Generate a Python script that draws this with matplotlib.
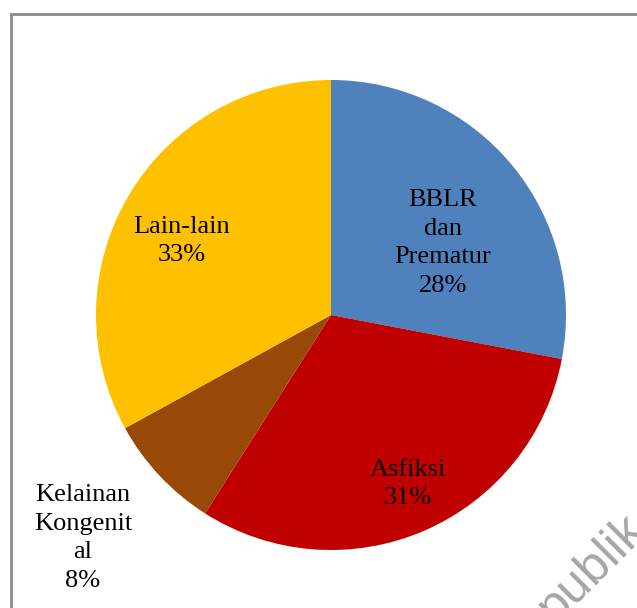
import matplotlib.pyplot as plt
from matplotlib.patches import Rectangle

# Data
labels = ['BBLR\ndan\nPrematur', 'Asfiksi', 'Kelainan\nKongenit\nal', 'Lain-lain']
values = [28, 31, 8, 33]
colors = ['#4F81BD', '#C00000', '#984807', '#FFC000']
# label centres in pixel coords (x, y from top)
label_pos = [(443, 243), (408, 484), (83, 538), (182, 241)]

W, H = 637, 608
fig = plt.figure(figsize=(W / 100, H / 100), dpi=100)
ax = fig.add_axes([0, 0, 1, 1])

cx, cy, r = 331, H - 315, 235
ax.pie(values, colors=colors, startangle=90, counterclock=False,
       center=(cx, cy), radius=r, frame=True,
       wedgeprops=dict(linewidth=0))
ax.axis('off')
ax.set_xlim(0, W)
ax.set_ylim(0, H)
ax.set_aspect('equal')

for lab, v, (px, py) in zip(labels, values, label_pos):
    ax.text(px, H - py, f'{lab}\n{v}%', ha='center', va='center',
            fontsize=19, family='Liberation Serif', color='black',
            linespacing=1.4)

# frame of the chart area
fig.patches.append(Rectangle((11 / W, -0.1), 1.2, 1 - 14 / H + 0.1,
                             transform=fig.transFigure, fill=False,
                             edgecolor='#8c8c8c', linewidth=2))

# watermark fragment
fig.text(592 / W, 1 - 568 / H, 'publik', rotation=45, fontsize=36,
         color='#a6a6a6', family='Liberation Sans', ha='center', va='center')

fig.savefig('out.png', dpi=100)
